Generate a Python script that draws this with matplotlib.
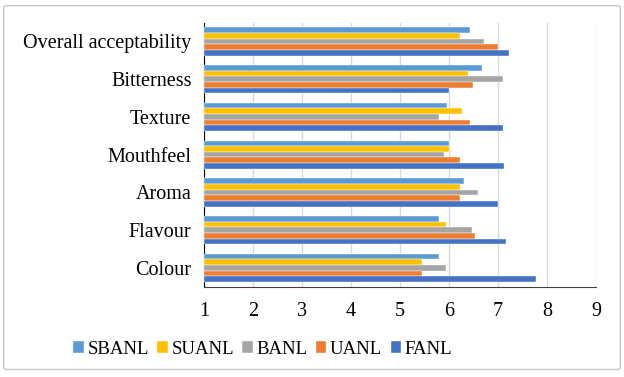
import numpy as np
import matplotlib.pyplot as plt
from matplotlib.patches import FancyBboxPatch

plt.rcParams['font.family'] = ['Liberation Serif', 'DejaVu Serif']

# kateqoriyalar (aşağıdan yuxarı)
categories = ["Colour", "Flavour", "Aroma", "Mouthfeel", "Texture", "Bitterness", "Overall acceptability"]
series = ["SBANL", "SUANL", "BANL", "UANL", "FANL"]
sbanl = [5.79, 5.79, 6.30, 6.00, 5.96, 6.67, 6.43]
suanl = [5.45, 5.93, 6.23, 6.00, 6.27, 6.39, 6.23]
banl = [5.93, 6.46, 6.59, 5.89, 5.79, 7.10, 6.72]
uanl = [5.45, 6.53, 6.23, 6.23, 6.43, 6.50, 7.00]
fanl = [7.78, 7.17, 7.00, 7.12, 7.10, 6.00, 7.22]
colors = ["#5B9BD5", "#FFC000", "#A5A5A5", "#ED7D31", "#4472C4"]

values = [sbanl, suanl, banl, uanl, fanl]

fig = plt.figure(figsize=(6.24, 3.77), dpi=100)
ax = fig.add_axes([0.327, 0.2395, 0.628, 0.7005])

y = np.arange(len(categories))
h = 0.15
for i, (name, vals, c) in enumerate(zip(series, values, colors)):
    offset = (2 - i) * h
    ax.barh(y + offset, np.array(vals) - 1, left=1, height=h, color=c,
            edgecolor="white", linewidth=0.3, label=name, zorder=3)

ax.set_xlim(1, 9)
ax.set_ylim(-0.5, len(categories) - 0.5)
ax.set_xticks(range(1, 10))
ax.set_yticks(y)
ax.set_yticklabels(categories, fontsize=14.5)
ax.tick_params(axis='x', labelsize=14.5, length=0, pad=11)
ax.tick_params(axis='y', length=0, pad=9)
ax.grid(axis='x', color="#D9D9D9", linewidth=1, zorder=0)
for s in ["top", "right"]:
    ax.spines[s].set_visible(False)
ax.spines["left"].set_color("black")
ax.spines["bottom"].set_color("#404040")

ax.legend(loc="upper center", bbox_to_anchor=(0.15, -0.14), ncol=5, frameon=False,
          fontsize=13.5, handlelength=0.55, handleheight=0.55, handletextpad=0.2,
          columnspacing=0.45)

border = FancyBboxPatch((0.006, 0.02), 0.988, 0.965, boxstyle="round,pad=0,rounding_size=0.005",
                        transform=fig.transFigure, fill=False, edgecolor="#C8C8C8", linewidth=1)
fig.patches.append(border)

fig.savefig("out.png", dpi=100)
